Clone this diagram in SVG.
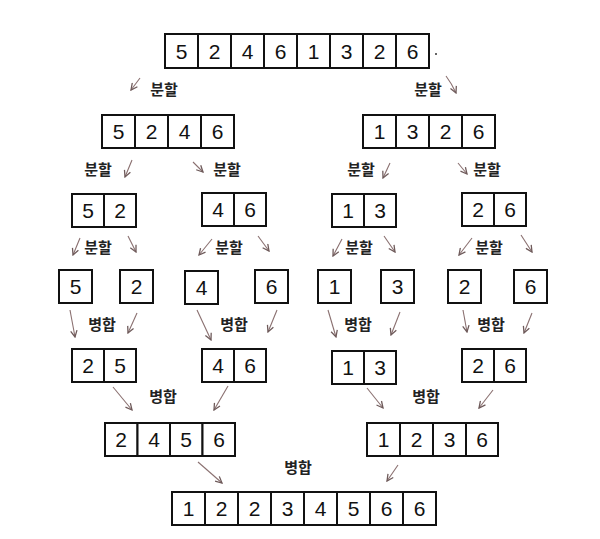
<svg xmlns="http://www.w3.org/2000/svg" width="600" height="539" viewBox="0 0 600 539">
<defs>
<style>
.c{fill:#fff;stroke:#111;stroke-width:2}
.d{font-family:"Liberation Sans",Arial,sans-serif;font-size:21px;fill:#111;text-anchor:middle}
.l{font-family:"Noto Sans CJK KR","Noto Sans",sans-serif;font-size:15px;font-weight:700;fill:#222;text-anchor:middle}
.a{fill:none;stroke:#8a7070;stroke-width:1.1;marker-end:url(#h)}
</style>
<marker id="h" markerUnits="userSpaceOnUse" markerWidth="8" markerHeight="8" viewBox="0 0 10 10" refX="9" refY="5" orient="auto">
<path d="M1,1 L9,5 L1,9" fill="none" stroke="#6e5a5a" stroke-width="1.6"/>
</marker>
</defs>
<rect width="600" height="539" fill="#fff"/>

<g id="n_top">
<rect class="c" x="165" y="34" width="33" height="34"/><rect class="c" x="198" y="34" width="33" height="34"/><rect class="c" x="231" y="34" width="33" height="34"/><rect class="c" x="264" y="34" width="33" height="34"/><rect class="c" x="297" y="34" width="33" height="34"/><rect class="c" x="330" y="34" width="33" height="34"/><rect class="c" x="363" y="34" width="33" height="34"/><rect class="c" x="396" y="34" width="33" height="34"/>
<text class="d" x="181.5" y="59">5</text><text class="d" x="214.5" y="59">2</text><text class="d" x="247.5" y="59">4</text><text class="d" x="280.5" y="59">6</text><text class="d" x="313.5" y="59">1</text><text class="d" x="346.5" y="59">3</text><text class="d" x="379.5" y="59">2</text><text class="d" x="412.5" y="59">6</text>
<circle cx="436" cy="54" r="1" fill="#333"/>
</g>

<g id="n_l2a">
<rect class="c" x="102" y="115" width="33" height="33"/><rect class="c" x="135" y="115" width="33" height="33"/><rect class="c" x="168" y="115" width="33" height="33"/><rect class="c" x="201" y="115" width="33" height="33"/>
<text class="d" x="118.5" y="139">5</text><text class="d" x="151.5" y="139">2</text><text class="d" x="184.5" y="139">4</text><text class="d" x="217.5" y="139">6</text>
</g>
<g id="n_l2b">
<rect class="c" x="363" y="115" width="33" height="33"/><rect class="c" x="396" y="115" width="33" height="33"/><rect class="c" x="429" y="115" width="33" height="33"/><rect class="c" x="462" y="115" width="33" height="33"/>
<text class="d" x="379.5" y="139">1</text><text class="d" x="412.5" y="139">3</text><text class="d" x="445.5" y="139">2</text><text class="d" x="478.5" y="139">6</text>
</g>

<g id="n_l3a">
<rect class="c" x="72" y="194" width="32" height="33"/><rect class="c" x="104" y="194" width="32" height="33"/>
<text class="d" x="88" y="218">5</text><text class="d" x="120" y="218">2</text>
</g>
<g id="n_l3b">
<rect class="c" x="202" y="193" width="32" height="33"/><rect class="c" x="234" y="193" width="32" height="33"/>
<text class="d" x="218" y="217">4</text><text class="d" x="250" y="217">6</text>
</g>
<g id="n_l3c">
<rect class="c" x="332" y="194" width="32" height="33"/><rect class="c" x="364" y="194" width="32" height="33"/>
<text class="d" x="348" y="218">1</text><text class="d" x="380" y="218">3</text>
</g>
<g id="n_l3d">
<rect class="c" x="462" y="193" width="32" height="33"/><rect class="c" x="494" y="193" width="32" height="33"/>
<text class="d" x="478" y="217">2</text><text class="d" x="510" y="217">6</text>
</g>

<g id="n_s1"><rect class="c" x="59" y="270" width="33" height="33"/><text class="d" x="75.5" y="294">5</text></g>
<g id="n_s2"><rect class="c" x="120" y="270" width="33" height="33"/><text class="d" x="136.5" y="294">2</text></g>
<g id="n_s3"><rect class="c" x="185" y="271" width="33" height="33"/><text class="d" x="201.5" y="295">4</text></g>
<g id="n_s4"><rect class="c" x="255" y="270" width="33" height="33"/><text class="d" x="271.5" y="294">6</text></g>
<g id="n_s5"><rect class="c" x="318" y="270" width="33" height="33"/><text class="d" x="334.5" y="294">1</text></g>
<g id="n_s6"><rect class="c" x="381" y="270" width="33" height="33"/><text class="d" x="397.5" y="294">3</text></g>
<g id="n_s7"><rect class="c" x="448" y="270" width="33" height="33"/><text class="d" x="464.5" y="294">2</text></g>
<g id="n_s8"><rect class="c" x="514" y="270" width="33" height="33"/><text class="d" x="530.5" y="294">6</text></g>

<g id="n_m1">
<rect class="c" x="72" y="349" width="32" height="33"/><rect class="c" x="104" y="349" width="32" height="33"/>
<text class="d" x="88" y="373">2</text><text class="d" x="120" y="373">5</text>
</g>
<g id="n_m2">
<rect class="c" x="202" y="349" width="32" height="33"/><rect class="c" x="234" y="349" width="32" height="33"/>
<text class="d" x="218" y="373">4</text><text class="d" x="250" y="373">6</text>
</g>
<g id="n_m3">
<rect class="c" x="332" y="351" width="32" height="33"/><rect class="c" x="364" y="351" width="32" height="33"/>
<text class="d" x="348" y="375">1</text><text class="d" x="380" y="375">3</text>
</g>
<g id="n_m4">
<rect class="c" x="462" y="349" width="32" height="33"/><rect class="c" x="494" y="349" width="32" height="33"/>
<text class="d" x="478" y="373">2</text><text class="d" x="510" y="373">6</text>
</g>

<g id="n_m5">
<rect class="c" x="105" y="423" width="32.5" height="33"/><rect class="c" x="137.5" y="423" width="32.5" height="33"/><rect class="c" x="170" y="423" width="32.5" height="33"/><rect class="c" x="202.5" y="423" width="32.5" height="33"/>
<text class="d" x="121" y="447">2</text><text class="d" x="154" y="447">4</text><text class="d" x="186" y="447">5</text><text class="d" x="219" y="447">6</text>
</g>
<g id="n_m6">
<rect class="c" x="367" y="423" width="33" height="33"/><rect class="c" x="400" y="423" width="33" height="33"/><rect class="c" x="433" y="423" width="33" height="33"/><rect class="c" x="466" y="423" width="32" height="33"/>
<text class="d" x="383.5" y="447">1</text><text class="d" x="416.5" y="447">2</text><text class="d" x="449.5" y="447">3</text><text class="d" x="482" y="447">6</text>
</g>

<g id="n_final">
<rect class="c" x="172" y="492" width="33" height="33"/><rect class="c" x="205" y="492" width="33" height="33"/><rect class="c" x="238" y="492" width="33" height="33"/><rect class="c" x="271" y="492" width="33" height="33"/><rect class="c" x="304" y="492" width="33" height="33"/><rect class="c" x="337" y="492" width="33" height="33"/><rect class="c" x="370" y="492" width="33" height="33"/><rect class="c" x="403" y="492" width="33" height="33"/>
<text class="d" x="188.5" y="516">1</text><text class="d" x="221.5" y="516">2</text><text class="d" x="254.5" y="516">2</text><text class="d" x="287.5" y="516">3</text><text class="d" x="320.5" y="516">4</text><text class="d" x="353.5" y="516">5</text><text class="d" x="386.5" y="516">6</text><text class="d" x="419.5" y="516">6</text>
</g>

<g id="connectors">
<path class="a" d="M140,78 L131,90"/>
<path class="a" d="M446,76 Q452,84 456,93"/>
<path class="a" d="M132,160 L125,177"/>
<path class="a" d="M193,162 L203,172"/>
<path class="a" d="M390,163 L383,178"/>
<path class="a" d="M458,163 L467,174"/>
<path class="a" d="M80,238 L73,255"/>
<path class="a" d="M128,236 L136,252"/>
<path class="a" d="M212,239 L199,255"/>
<path class="a" d="M258,236 L269,251"/>
<path class="a" d="M342,239 L333,256"/>
<path class="a" d="M384,236 L395,252"/>
<path class="a" d="M472,238 L459,255"/>
<path class="a" d="M521,235 L532,252"/>
<path class="a" d="M70,310 L75,337"/>
<path class="a" d="M137,313 L128,333"/>
<path class="a" d="M197,310 L211,340"/>
<path class="a" d="M277,310 L268,332"/>
<path class="a" d="M328,310 L336,337"/>
<path class="a" d="M400,312 L391,335"/>
<path class="a" d="M463,310 L467,332"/>
<path class="a" d="M532,313 L524,333"/>
<path class="a" d="M113,387 L132,410"/>
<path class="a" d="M228,386 L214,410"/>
<path class="a" d="M367,388 L383,408"/>
<path class="a" d="M493,390 L479,408"/>
<path class="a" d="M198,462 L222,483"/>
<path class="a" d="M398,465 L387,481"/>
</g>

<g id="labels">
<text class="l" x="164" y="95">분할</text>
<text class="l" x="428" y="95">분할</text>
<text class="l" x="98" y="175">분할</text>
<text class="l" x="227" y="175">분할</text>
<text class="l" x="361" y="175">분할</text>
<text class="l" x="487" y="175">분할</text>
<text class="l" x="98" y="253">분할</text>
<text class="l" x="229" y="253">분할</text>
<text class="l" x="359" y="253">분할</text>
<text class="l" x="489" y="253">분할</text>
<text class="l" x="102" y="330">병합</text>
<text class="l" x="234" y="330">병합</text>
<text class="l" x="358" y="330">병합</text>
<text class="l" x="491" y="330">병합</text>
<text class="l" x="163" y="402">병합</text>
<text class="l" x="426" y="402">병합</text>
<text class="l" x="298" y="473">병합</text>
</g>
</svg>
